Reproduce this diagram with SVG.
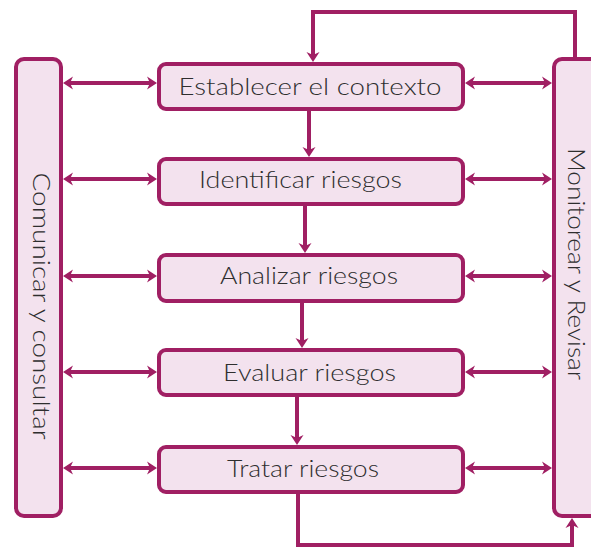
<svg xmlns="http://www.w3.org/2000/svg" width="591" height="547" viewBox="0 0 591 547">
<style>
.box{fill:#f3e2ee;stroke:#a01f63;stroke-width:4}
.lbl{font-family:Lato,"Liberation Sans",sans-serif;font-weight:300;font-size:23px;fill:#2e2e2e;text-anchor:middle}
.side{font-family:Lato,"Liberation Sans",sans-serif;font-weight:300;font-size:24px;fill:#2e2e2e;text-anchor:middle}
.con{fill:none;stroke:#a01f63;stroke-width:4}
.arr{marker-end:url(#ah)}
.dbl{marker-start:url(#ah);marker-end:url(#ah)}
</style>
<defs>
<marker id="ah" viewBox="-12 -8 14 16" markerWidth="14" markerHeight="16" markerUnits="userSpaceOnUse" refX="-5" refY="0" orient="auto-start-reverse">
<path d="M-10,-6.5 L0,0 L-10,6.5 L-7,0 Z" fill="#a01f63"/>
</marker>
</defs>
<rect width="591" height="547" fill="#fff"/>
<g id="connectors">
<path class="con dbl" d="M68,83 H152"/>
<path class="con dbl" d="M68,179 H152"/>
<path class="con dbl" d="M68,276 H152"/>
<path class="con dbl" d="M68,372 H152"/>
<path class="con dbl" d="M68,468 H152"/>
<path class="con dbl" d="M470,83 H547"/>
<path class="con dbl" d="M470,179 H547"/>
<path class="con dbl" d="M470,276 H547"/>
<path class="con dbl" d="M470,372 H547"/>
<path class="con dbl" d="M470,468 H547"/>
<path class="con arr" d="M309,111 V152"/>
<path class="con arr" d="M305,206 V248"/>
<path class="con arr" d="M302,303 V343"/>
<path class="con arr" d="M297,397 V440"/>
<path class="con arr" d="M575,57 V12 H313 V57"/>
<path class="con arr" d="M298,494 V545 H572 V523"/>
</g>
<g id="comunicar">
<rect class="box" x="16" y="59" width="45" height="457" rx="8"/>
<text class="side" transform="translate(33,306) rotate(90)" textLength="267" lengthAdjust="spacingAndGlyphs">Comunicar y consultar</text>
</g>
<g id="monitorear">
<rect class="box" x="554" y="59" width="60" height="457" rx="8"/>
<text class="side" transform="translate(568,264) rotate(90)" textLength="232" lengthAdjust="spacingAndGlyphs">Monitorear y Revisar</text>
</g>
<g id="establecer">
<rect class="box" x="159" y="64" width="304" height="45" rx="7"/>
<text class="lbl" x="310" y="95" textLength="263" lengthAdjust="spacingAndGlyphs">Establecer el contexto</text>
</g>
<g id="identificar">
<rect class="box" x="159" y="159" width="304" height="45" rx="7"/>
<text class="lbl" x="300.5" y="188" textLength="203" lengthAdjust="spacingAndGlyphs">Identificar riesgos</text>
</g>
<g id="analizar">
<rect class="box" x="159" y="255" width="304" height="46" rx="7"/>
<text class="lbl" x="309" y="284" textLength="178" lengthAdjust="spacingAndGlyphs">Analizar riesgos</text>
</g>
<g id="evaluar">
<rect class="box" x="159" y="350" width="304" height="45" rx="7"/>
<text class="lbl" x="309.5" y="381" textLength="173" lengthAdjust="spacingAndGlyphs">Evaluar riesgos</text>
</g>
<g id="tratar">
<rect class="box" x="159" y="447" width="304" height="45" rx="7"/>
<text class="lbl" x="303" y="477" textLength="152" lengthAdjust="spacingAndGlyphs">Tratar riesgos</text>
</g>
</svg>
